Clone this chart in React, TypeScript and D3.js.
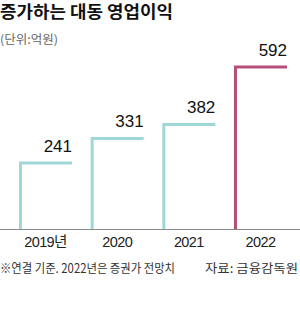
import { useRef, useEffect } from 'react';
import * as d3 from 'd3';

const WIDTH = 300;
const HEIGHT = 323;

const years = ['2019년', '2020', '2021', '2022'];
const profits = [241, 331, 382, 592];
const isForecast = [false, false, false, true];

const TITLE = '증가하는 대동 영업이익';
const UNIT = '(단위:억원)';
const NOTE = '※연결 기준. 2022년은 증권가 전망치';
const SOURCE = '자료: 금융감독원';

const TEAL = '#9fd6d6';
const PINK = '#b44f78';
const BASELINE = 229;
const KR_FONT = '"Noto Sans CJK KR", "Noto Sans", sans-serif';
const NUM_FONT = '"Liberation Sans", Arial, sans-serif';

export default function App() {
  const svgRef = useRef<SVGSVGElement>(null);

  useEffect(() => {
    document.body.style.margin = '0';
    if (!svgRef.current) return;
    const svg = d3.select(svgRef.current);
    svg.selectAll('*').remove();

    const x = d3.scaleBand<string>().domain(years).range([19, 287]).paddingInner(0.26).paddingOuter(0);
    const y = d3.scaleLinear().domain([0, 592]).range([BASELINE, 67]);

    // title + unit
    svg.append('text')
      .attr('x', 0).attr('y', 18)
      .attr('font-family', KR_FONT).attr('font-weight', 700).attr('font-size', 16.5)
      .attr('fill', '#111')
      .attr('textLength', 173).attr('lengthAdjust', 'spacingAndGlyphs')
      .text(TITLE);
    svg.append('text')
      .attr('x', 0).attr('y', 44)
      .attr('font-family', KR_FONT).attr('font-size', 12)
      .attr('fill', '#666')
      .attr('textLength', 58).attr('lengthAdjust', 'spacingAndGlyphs')
      .text(UNIT);

    // baseline
    svg.append('line')
      .attr('x1', 0).attr('x2', WIDTH).attr('y1', BASELINE + 0.5).attr('y2', BASELINE + 0.5)
      .attr('stroke', '#8a8a8a').attr('stroke-width', 1);

    // bracket-shaped bars
    const bars = svg.append('g');
    years.forEach((yr, i) => {
      const x0 = x(yr)!;
      const x1 = x0 + x.bandwidth();
      const top = y(profits[i]);
      const color = isForecast[i] ? PINK : TEAL;
      bars.append('path')
        .attr('d', `M${x0 + 1.5},${BASELINE} L${x0 + 1.5},${top} L${x1},${top}`)
        .attr('fill', 'none')
        .attr('stroke', color)
        .attr('stroke-width', 3)
        .attr('stroke-linejoin', 'miter');

      bars.append('text')
        .attr('x', x1).attr('y', top - 11)
        .attr('text-anchor', 'end')
        .attr('font-family', NUM_FONT).attr('font-size', 17)
        .attr('fill', '#111')
        .text(d3.format('d')(profits[i]));

      bars.append('text')
        .attr('x', x0 + x.bandwidth() / 2).attr('y', 247)
        .attr('text-anchor', 'middle')
        .attr('font-family', `${NUM_FONT}, ${KR_FONT}`).attr('font-size', 14.5)
        .attr('letter-spacing', -0.6)
        .attr('fill', '#222')
        .text(yr);
    });

    // footnote
    svg.append('text')
      .attr('x', 0).attr('y', 273)
      .attr('font-family', KR_FONT).attr('font-size', 12.5)
      .attr('fill', '#333')
      .attr('textLength', 175).attr('lengthAdjust', 'spacingAndGlyphs')
      .text(NOTE);
    svg.append('text')
      .attr('x', WIDTH - 2).attr('y', 273)
      .attr('text-anchor', 'end')
      .attr('font-family', KR_FONT).attr('font-size', 12.5)
      .attr('fill', '#333')
      .attr('textLength', 93).attr('lengthAdjust', 'spacingAndGlyphs')
      .text(SOURCE);
  }, []);

  return (
    <svg ref={svgRef} width={WIDTH} height={HEIGHT} style={{ display: 'block', background: '#fff' }} />
  );
}
